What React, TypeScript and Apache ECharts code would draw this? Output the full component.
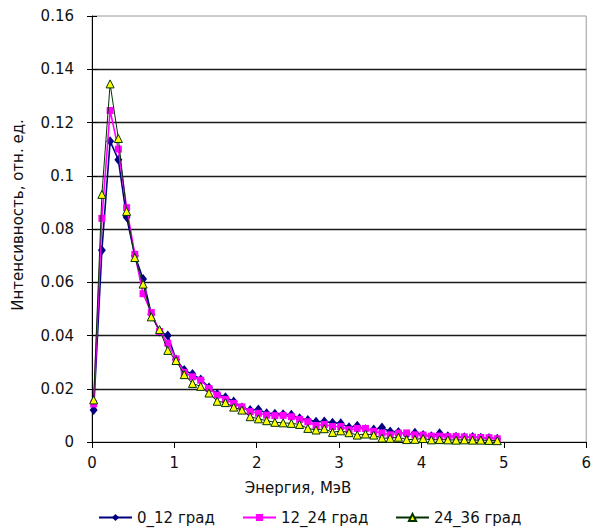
import React, { useEffect, useRef } from "react";
import * as echarts from "echarts";

// Energy bin positions, MeV
const energy = [
  0.02, 0.12, 0.22, 0.32, 0.42, 0.52, 0.62, 0.72, 0.82, 0.92,
  1.02, 1.12, 1.22, 1.32, 1.42, 1.52, 1.62, 1.72, 1.82, 1.92,
  2.02, 2.12, 2.22, 2.32, 2.42, 2.52, 2.62, 2.72, 2.82, 2.92,
  3.02, 3.12, 3.22, 3.32, 3.42, 3.52, 3.62, 3.72, 3.82, 3.92,
  4.02, 4.12, 4.22, 4.32, 4.42, 4.52, 4.62, 4.72, 4.82, 4.92,
];

// Relative intensity, 0–12 degrees
const deg0_12 = [
  0.012, 0.072, 0.113, 0.106, 0.0845, 0.07, 0.0612, 0.048, 0.0415, 0.04,
  0.031, 0.027, 0.0255, 0.0235, 0.0205, 0.018, 0.0168, 0.0152, 0.013, 0.012,
  0.0122, 0.0108, 0.0106, 0.0104, 0.0102, 0.0089, 0.0083, 0.0076, 0.0077, 0.0072,
  0.007, 0.0055, 0.0061, 0.0048, 0.0047, 0.0054, 0.0039, 0.0038, 0.0027, 0.0035,
  0.0026, 0.0022, 0.0033, 0.0022, 0.002, 0.0018, 0.0019, 0.0016, 0.0015, 0.0012,
];

// Relative intensity, 12–24 degrees
const deg12_24 = [
  0.0143, 0.084, 0.1245, 0.11, 0.088, 0.0705, 0.0557, 0.0486, 0.0415, 0.0371,
  0.0312, 0.0261, 0.0245, 0.0232, 0.0201, 0.0176, 0.016, 0.0145, 0.0132, 0.0114,
  0.0108, 0.0101, 0.0099, 0.01, 0.0095, 0.0085, 0.0076, 0.0062, 0.0066, 0.0058,
  0.0058, 0.0046, 0.0051, 0.0051, 0.004, 0.0034, 0.0027, 0.0033, 0.0034, 0.0027,
  0.0026, 0.0022, 0.0022, 0.002, 0.0021, 0.0019, 0.0018, 0.0017, 0.0016, 0.0012,
];

// Relative intensity, 24–36 degrees
const deg24_36 = [
  0.0158, 0.093, 0.1345, 0.114, 0.0866, 0.0693, 0.0593, 0.047, 0.0422, 0.0344,
  0.0306, 0.0253, 0.022, 0.0209, 0.0184, 0.0153, 0.0148, 0.0131, 0.012, 0.0095,
  0.0087, 0.008, 0.0074, 0.0072, 0.007, 0.0066, 0.0051, 0.0045, 0.005, 0.0036,
  0.0042, 0.0035, 0.0026, 0.003, 0.0026, 0.0015, 0.0014, 0.0018, 0.0009, 0.001,
  0.0013, 0.0008, 0.0009, 0.0008, 0.0007, 0.0008, 0.0007, 0.0007, 0.0006, 0.0005,
];

const seriesNames = ["0_12 град", "12_24 град", "24_36 град"];
const xTitle = "Энергия, МэВ";
const yTitle = "Интенсивность, отн. ед.";

const FONT = "DejaVu Sans";
const TEXT = "#111";

const pairs = (ys: number[]) => energy.map((x, i) => [x, ys[i]]);

export default function App() {
  const ref = useRef<HTMLDivElement>(null);

  useEffect(() => {
    if (!ref.current) return;
    const chart = echarts.init(ref.current, null, { renderer: "svg" });

    const yBase = {
      type: "value" as const,
      min: 0,
      max: 0.16,
      interval: 0.02,
      position: "left" as const,
    };

    const legendBase = {
      top: 505,
      itemWidth: 33,
      itemHeight: 9,
      itemGap: 5,
      textStyle: { fontFamily: FONT, fontSize: 15, color: TEXT },
    };

    chart.setOption({
      animation: false,
      backgroundColor: "#fff",
      grid: {
        left: 92,
        top: 16,
        width: 499,
        height: 426,
        show: true,
        borderColor: "#9a9a9a",
        borderWidth: 1,
        backgroundColor: "transparent",
      },
      xAxis: {
        type: "value",
        min: 0,
        max: 6,
        interval: 1,
        axisLine: { show: true, lineStyle: { color: "#000", width: 1 } },
        axisTick: { show: true, inside: false, length: 6, lineStyle: { color: "#000" } },
        axisLabel: { margin: 13, fontFamily: FONT, fontSize: 15, color: TEXT },
        splitLine: { show: false },
      },
      yAxis: [
        {
          ...yBase,
          axisLine: { show: true, lineStyle: { color: "#000", width: 1 } },
          axisTick: { show: true, inside: false, length: 5, lineStyle: { color: "#000" } },
          axisLabel: { margin: 18, fontFamily: FONT, fontSize: 15, color: TEXT },
          splitLine: {
            show: true,
            showMinLine: false,
            showMaxLine: false,
            lineStyle: { color: "#1a1a1a", width: 1.3 },
          },
        },
        {
          // inner half of the cross-style ticks
          ...yBase,
          axisLine: { show: false },
          axisTick: { show: true, inside: true, length: 5, lineStyle: { color: "#000" } },
          axisLabel: { show: false },
          splitLine: { show: false },
        },
      ],
      legend: [
        { ...legendBase, left: 93, data: [seriesNames[0]] },
        { ...legendBase, left: 237, data: [seriesNames[1]] },
        { ...legendBase, left: 390, data: [seriesNames[2]] },
      ],
      graphic: [
        {
          type: "text",
          x: 298,
          y: 488,
          style: {
            text: xTitle,
            fontFamily: FONT,
            fontSize: 15,
            fill: TEXT,
            align: "center",
            verticalAlign: "middle",
          },
        },
        {
          type: "text",
          x: 18,
          y: 215,
          rotation: Math.PI / 2,
          style: {
            text: yTitle,
            fontFamily: FONT,
            fontSize: 15,
            fill: TEXT,
            align: "center",
            verticalAlign: "middle",
          },
        },
      ],
      series: [
        {
          name: seriesNames[0],
          type: "line",
          data: pairs(deg0_12),
          symbol: "diamond",
          symbolSize: [8, 10],
          lineStyle: { color: "#000080", width: 1.6 },
          itemStyle: { color: "#000080" },
          z: 2,
        },
        {
          name: seriesNames[1],
          type: "line",
          data: pairs(deg12_24),
          symbol: "rect",
          symbolSize: 7,
          lineStyle: { color: "#ff00ff", width: 1.6 },
          itemStyle: { color: "#ff00ff" },
          z: 3,
        },
        {
          name: seriesNames[2],
          type: "line",
          data: pairs(deg24_36),
          symbol: "triangle",
          symbolSize: 8,
          lineStyle: { color: "#003300", width: 1 },
          itemStyle: { color: "#ffff00", borderColor: "#003300", borderWidth: 1 },
          z: 4,
        },
      ],
    });

    return () => chart.dispose();
  }, []);

  return (
    <div
      ref={ref}
      style={{ position: "absolute", left: 0, top: 0, width: 594, height: 532 }}
    />
  );
}
